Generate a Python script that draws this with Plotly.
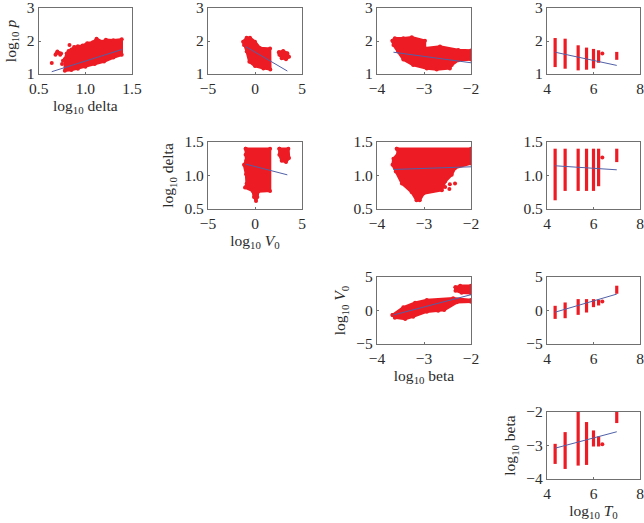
# Pairwise parameter scatter matrix (upper triangle) with regression lines

import plotly.graph_objects as go

# -------------------------------
# 1. Values
# -------------------------------
T0_LEVELS = [4.35, 4.78, 5.34, 5.70, 6.00, 6.22, 6.38, 7.00]

p_low = [1.21, 1.16, 1.11, 1.13, 1.17, 1.34, 1.62, 1.43]
p_high = [2.09, 2.07, 1.87, 1.80, 1.76, 1.72, 1.62, 1.67]
delta_low = [0.63, 0.77, 0.77, 0.77, 0.77, 0.84, 1.27, 1.20]
delta_high = [1.40, 1.40, 1.40, 1.40, 1.40, 1.40, 1.27, 1.40]
v0_low = [-1.25, -1.15, -0.65, -0.30, 0.50, 0.75, 1.35, 2.50]
v0_high = [0.70, 1.20, 1.70, 1.70, 1.70, 1.60, 1.35, 3.70]
beta_low = [-3.55, -3.70, -3.60, -3.58, -3.03, -3.03, -2.96, -2.33]
beta_high = [-2.95, -2.60, -2.00, -2.30, -2.55, -2.73, -2.96, -2.00]

# cloud outlines: delta vs p
delta_p_x = [0.78, 0.80, 0.82, 0.85, 0.88, 0.92, 0.97, 1.02, 1.08, 1.12, 1.18, 1.22, 1.30, 1.39,
             1.39, 1.30, 1.20, 1.10, 1.00, 0.92, 0.85, 0.78]
delta_p_y = [1.45, 1.62, 1.70, 1.74, 1.82, 1.84, 1.86, 1.93, 1.96, 2.07, 1.98, 2.04, 2.02, 2.05,
             1.58, 1.50, 1.38, 1.30, 1.22, 1.16, 1.12, 1.10]
delta_p_stray_x = [0.64, 0.68, 0.70, 0.72, 0.74, 0.69, 0.73, 0.76, 0.75, 0.83]
delta_p_stray_y = [1.33, 1.58, 1.68, 1.64, 1.62, 1.63, 1.58, 1.40, 1.30, 1.88]
delta_p_line_x = [0.64, 1.39]
delta_p_line_y = [1.07, 1.74]

# V0 vs p
v0_p_x = [-1.24, -0.89, -0.53, 0.00, 0.53, 1.60, 1.63, 0.89, 0.00, -0.60, -0.88, -1.17]
v0_p_y = [1.98, 2.10, 2.10, 1.98, 1.79, 1.77, 1.14, 1.17, 1.24, 1.37, 1.68, 1.88]
v0_p_x2 = [2.55, 3.00, 3.44, 3.62, 3.30, 2.84, 2.59]
v0_p_y2 = [1.66, 1.70, 1.63, 1.52, 1.45, 1.48, 1.58]
v0_p_line_x = [-0.99, 3.44]
v0_p_line_y = [1.83, 1.09]

# beta vs p
beta_p_x = [-3.67, -3.62, -3.44, -3.26, -2.98, -2.98, -2.66, -2.27, -2.00,
            -2.00, -2.27, -2.41, -2.45, -2.73, -2.94, -3.23, -3.44, -3.55, -3.65]
beta_p_y = [2.01, 2.08, 2.08, 2.11, 2.01, 1.78, 1.83, 1.73, 1.71,
            1.44, 1.42, 1.27, 1.17, 1.14, 1.17, 1.27, 1.44, 1.68, 1.88]
beta_p_line_x = [-3.65, -2.00]
beta_p_line_y = [1.66, 1.34]

# V0 vs delta
v0_delta_x = [-0.99, 1.60, 1.60, 0.35, 0.25, 0.11, -0.11, -0.25, -1.06, -0.89, -0.95, -1.17, -0.95, -1.00]
v0_delta_y = [1.40, 1.40, 0.77, 0.76, 0.68, 0.62, 0.68, 0.77, 0.82, 0.88, 1.02, 1.16, 1.22, 1.31]
v0_delta_x2 = [2.59, 3.55, 3.62, 3.30, 2.84, 2.59]
v0_delta_y2 = [1.40, 1.40, 1.26, 1.20, 1.22, 1.31]
v0_delta_line_x = [-0.99, 3.44]
v0_delta_line_y = [1.17, 1.01]

# beta vs delta
beta_delta_x = [-3.58, -2.00, -2.00, -2.34, -2.41, -2.55, -2.62, -3.01, -3.09, -3.16, -3.26,
                -3.47, -3.60, -3.67, -3.65, -3.55]
beta_delta_y = [1.40, 1.40, 1.18, 1.11, 1.01, 0.91, 0.78, 0.73, 0.63, 0.63, 0.75,
                0.88, 1.06, 1.16, 1.25, 1.33]
beta_delta_stray_x = [-2.45, -2.34, -2.55, -2.42, -2.46]
beta_delta_stray_y = [0.87, 0.88, 0.83, 1.05, 0.80]
beta_delta_line_x = [-3.65, -2.00]
beta_delta_line_y = [1.09, 1.13]

# beta vs V0
beta_v0_x = [-3.67, -3.44, -3.19, -2.94, -2.38, -2.00, -2.00, -2.30, -2.57, -2.70, -2.94, -3.23, -3.40, -3.62]
beta_v0_y = [-0.67, 0.47, 1.17, 1.57, 1.82, 1.57, 1.32, 1.22, 0.07, -0.03, -0.17, -0.92, -1.27, -1.07]
beta_v0_x2 = [-2.33, -2.23, -2.00, -2.00, -2.20, -2.33]
beta_v0_y2 = [3.46, 3.70, 3.70, 2.56, 2.66, 2.96]
beta_v0_line_x = [-3.65, -2.00]
beta_v0_line_y = [-0.67, 2.36]

# T0 regression lines
t0_line_x = [4.35, 7.00]
t0_p_line_y = [1.66, 1.26]
t0_delta_line_y = [1.145, 1.085]
t0_v0_line_y = [-0.25, 2.45]
t0_beta_line_y = [-3.08, -2.59]

# -------------------------------
# 2. Panel layout
# -------------------------------
W, H = 644, 523
COLS = [(38.7, 132), (208, 302), (377, 471), (547, 640)]
ROWS = [(8, 74), (142, 209), (277, 344), (412, 479)]

RED = "#ed1c24"
BLUE = "#5060a8"
FRAME = "#707070"
TEXT = "#2b2b2b"
FONT = "Liberation Serif"

P_AXIS = ([1, 3], [1, 2, 3], ["1", "2", "3"])
DELTA_AXIS = ([0.5, 1.5], [0.5, 1.0, 1.5], ["0.5", "1.0", "1.5"])
V0_AXIS = ([-5, 5], [-5, 0, 5], ["−5", "0", "5"])
BETA_AXIS = ([-4, -2], [-4, -3, -2], ["−4", "−3", "−2"])
T0_AXIS = ([4, 8], [4, 6, 8], ["4", "6", "8"])

LOG = "log<sub>10</sub> "
fig = go.Figure()
n_axis = 0


def add_panel(col, row, x_axis, y_axis, x_title=None, y_title=None):
    global n_axis
    n_axis += 1
    sx = "" if n_axis == 1 else str(n_axis)
    common = dict(
        showgrid=False, zeroline=False, mirror=True, showline=True, linecolor=FRAME, linewidth=1.2,
        ticks="inside", ticklen=2, tickwidth=1, tickcolor=FRAME, automargin=False,
        ticklabeloverflow="allow", tickfont=dict(family=FONT, size=15.5, color=TEXT),
    )
    fig.update_layout({
        "xaxis" + sx: dict(
            common, domain=[COLS[col][0] / W, COLS[col][1] / W], range=x_axis[0],
            tickvals=x_axis[1], ticktext=x_axis[2], anchor="y" + sx,
            title=dict(text=x_title, font=dict(family=FONT, size=15.5, color=TEXT), standoff=1),
        ),
        "yaxis" + sx: dict(
            common, domain=[1 - ROWS[row][1] / H, 1 - ROWS[row][0] / H], range=y_axis[0],
            tickvals=y_axis[1], ticktext=y_axis[2], anchor="x" + sx,
            title=dict(text=y_title, font=dict(family=FONT, size=15.5, color=TEXT), standoff=6),
        ),
    })
    return dict(xaxis="x" + sx, yaxis="y" + sx)


def add_cloud(ax, xs, ys):
    # filled outline with round dots on the vertices, like the dense scatter
    fig.add_trace(go.Scatter(
        x=xs + xs[:1], y=ys + ys[:1], mode="lines+markers", fill="toself", fillcolor=RED,
        line=dict(color=RED, width=2.5), marker=dict(color=RED, size=4), **ax,
    ))


def add_dots(ax, xs, ys):
    fig.add_trace(go.Scatter(x=xs, y=ys, mode="markers", marker=dict(color=RED, size=4), **ax))


def add_strips(ax, lows, highs):
    for t, lo, hi in zip(T0_LEVELS, lows, highs):
        if lo == hi:
            add_dots(ax, [t], [lo])
        else:
            fig.add_trace(go.Scatter(x=[t, t], y=[lo, hi], mode="lines",
                                     line=dict(color=RED, width=3.2), **ax))


def add_fit(ax, xs, ys):
    fig.add_trace(go.Scatter(x=xs, y=ys, mode="lines", line=dict(color=BLUE, width=1), **ax))


# -------------------------------
# 3. Panels
# -------------------------------
ax = add_panel(0, 0, DELTA_AXIS, P_AXIS, LOG + "delta", LOG + "<i>p</i>")
add_cloud(ax, delta_p_x, delta_p_y)
add_dots(ax, delta_p_stray_x, delta_p_stray_y)
add_fit(ax, delta_p_line_x, delta_p_line_y)

ax = add_panel(1, 0, V0_AXIS, P_AXIS)
add_cloud(ax, v0_p_x, v0_p_y)
add_cloud(ax, v0_p_x2, v0_p_y2)
add_fit(ax, v0_p_line_x, v0_p_line_y)

ax = add_panel(2, 0, BETA_AXIS, P_AXIS)
add_cloud(ax, beta_p_x, beta_p_y)
add_fit(ax, beta_p_line_x, beta_p_line_y)

ax = add_panel(3, 0, T0_AXIS, P_AXIS)
add_strips(ax, p_low, p_high)
add_fit(ax, t0_line_x, t0_p_line_y)

ax = add_panel(1, 1, V0_AXIS, DELTA_AXIS, LOG + "<i>V</i><sub>0</sub>", LOG + "delta")
add_cloud(ax, v0_delta_x, v0_delta_y)
add_cloud(ax, v0_delta_x2, v0_delta_y2)
add_fit(ax, v0_delta_line_x, v0_delta_line_y)

ax = add_panel(2, 1, BETA_AXIS, DELTA_AXIS)
add_cloud(ax, beta_delta_x, beta_delta_y)
add_dots(ax, beta_delta_stray_x, beta_delta_stray_y)
add_fit(ax, beta_delta_line_x, beta_delta_line_y)

ax = add_panel(3, 1, T0_AXIS, DELTA_AXIS)
add_strips(ax, delta_low, delta_high)
add_fit(ax, t0_line_x, t0_delta_line_y)

ax = add_panel(2, 2, BETA_AXIS, V0_AXIS, LOG + "beta", LOG + "<i>V</i><sub>0</sub>")
add_cloud(ax, beta_v0_x, beta_v0_y)
add_cloud(ax, beta_v0_x2, beta_v0_y2)
add_fit(ax, beta_v0_line_x, beta_v0_line_y)

ax = add_panel(3, 2, T0_AXIS, V0_AXIS)
add_strips(ax, v0_low, v0_high)
add_fit(ax, t0_line_x, t0_v0_line_y)

ax = add_panel(3, 3, T0_AXIS, BETA_AXIS, LOG + "<i>T</i><sub>0</sub>", LOG + "beta")
add_strips(ax, beta_low, beta_high)
add_fit(ax, t0_line_x, t0_beta_line_y)

fig.update_layout(
    width=W, height=H, margin=dict(l=0, r=0, t=0, b=0), showlegend=False,
    plot_bgcolor="white", paper_bgcolor="white",
)

fig.write_html("out.html", config=dict(displayModeBar=False),
               post_script="document.body.style.margin = '0';")
